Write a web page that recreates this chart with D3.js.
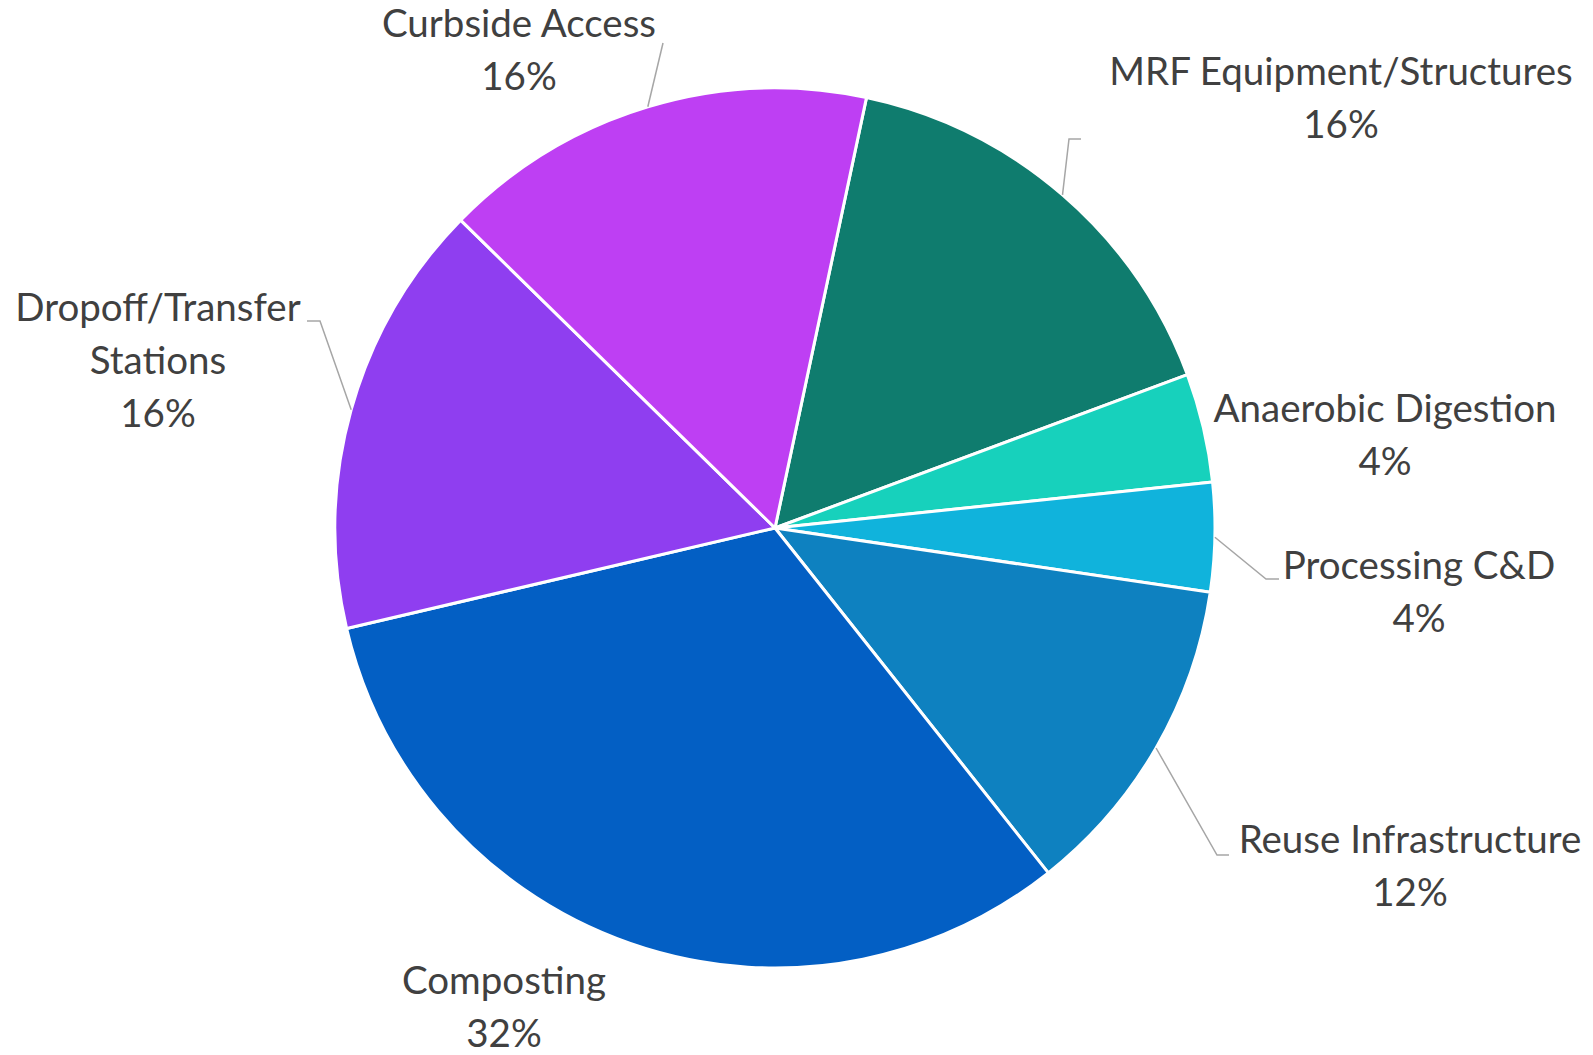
<!DOCTYPE html>
<html>
<head>
<meta charset="utf-8">
<script src="https://cdn.jsdelivr.net/npm/d3@7"></script>
<style>
  html, body { margin: 0; padding: 0; background: #ffffff; }
  svg { display: block; }
</style>
</head>
<body>
<svg id="chart" width="1593" height="1055"></svg>
<script>
// ---- data ----
const categories = ["MRF Equipment/Structures", "Anaerobic Digestion", "Processing C&D",
                    "Reuse Infrastructure", "Composting", "Dropoff/Transfer Stations", "Curbside Access"];
const counts = [4, 1, 1, 3, 8, 4, 4];
const percentLabels = ["16%", "4%", "4%", "12%", "32%", "16%", "16%"];
const colors = ["#0F7C6E", "#17D1BC", "#10B3DC", "#0E81C0", "#035FC4", "#8F3EF0", "#BE3FF3"];

// ---- layout (separate from data) ----
const W = 1593, H = 1055;
const cx = 775, cy = 528, R = 440;
const startDeg = 12;
const fontFamily = "Lato, 'Open Sans', 'Liberation Sans', sans-serif";
const labelLayout = [
  { x: 1341, y: 85,  lines: ["MRF Equipment/Structures"], leader: [[1069, 139], [1081, 139]] },
  { x: 1385, y: 422, lines: ["Anaerobic Digestion"], leader: null },
  { x: 1419, y: 579, lines: ["Processing C&D"], leader: [[1266, 579], [1279, 579]] },
  { x: 1410, y: 853, lines: ["Reuse Infrastructure"], leader: [[1217, 855], [1229, 855]] },
  { x: 504,  y: 994, lines: ["Composting"], leader: null },
  { x: 158,  y: 321, lines: ["Dropoff/Transfer", "Stations"], leader: [[320, 321], [307, 321]] },
  { x: 519,  y: 37,  lines: ["Curbside Access"], leader: [[663, 43]] }
];
const lineGap = 53;

const svg = d3.select("#chart");

// fit font size so the label width matches the reference's
const probe = svg.append("text").attr("font-family", fontFamily).attr("font-size", 100).text("Curbside Access");
const probeW = probe.node().getComputedTextLength();
probe.remove();
const fontSize = Math.round(100 * 274 / probeW * 10) / 10;

const pie = d3.pie().sort(null).value(d => d)
  .startAngle(startDeg * Math.PI / 180)
  .endAngle(startDeg * Math.PI / 180 + 2 * Math.PI);
const arcs = pie(counts);
const arc = d3.arc().innerRadius(0).outerRadius(R);

const g = svg.append("g").attr("transform", `translate(${cx},${cy})`);
g.selectAll("path.slice").data(arcs).enter().append("path")
  .attr("class", "slice")
  .attr("d", arc)
  .attr("fill", (d, i) => colors[i])
  .attr("stroke", "#ffffff")
  .attr("stroke-width", 3)
  .attr("stroke-linejoin", "round");

// leader lines
arcs.forEach((a, i) => {
  const L = labelLayout[i];
  if (!L.leader) return;
  const mid = (a.startAngle + a.endAngle) / 2;
  const p0 = [cx + R * Math.sin(mid), cy - R * Math.cos(mid)];
  const pts = [p0].concat(L.leader);
  svg.append("path")
    .attr("d", d3.line()(pts))
    .attr("fill", "none")
    .attr("stroke", "#A6A6A6")
    .attr("stroke-width", 1.5);
});

// labels
arcs.forEach((a, i) => {
  const L = labelLayout[i];
  const lines = L.lines.concat([percentLabels[i]]);
  const t = svg.append("text")
    .attr("font-family", fontFamily)
    .attr("font-size", fontSize)
    .attr("fill", "#404040")
    .attr("text-anchor", "middle");
  lines.forEach((s, k) => {
    t.append("tspan").attr("x", L.x).attr("y", L.y + k * lineGap).text(s);
  });
});
</script>
</body>
</html>
